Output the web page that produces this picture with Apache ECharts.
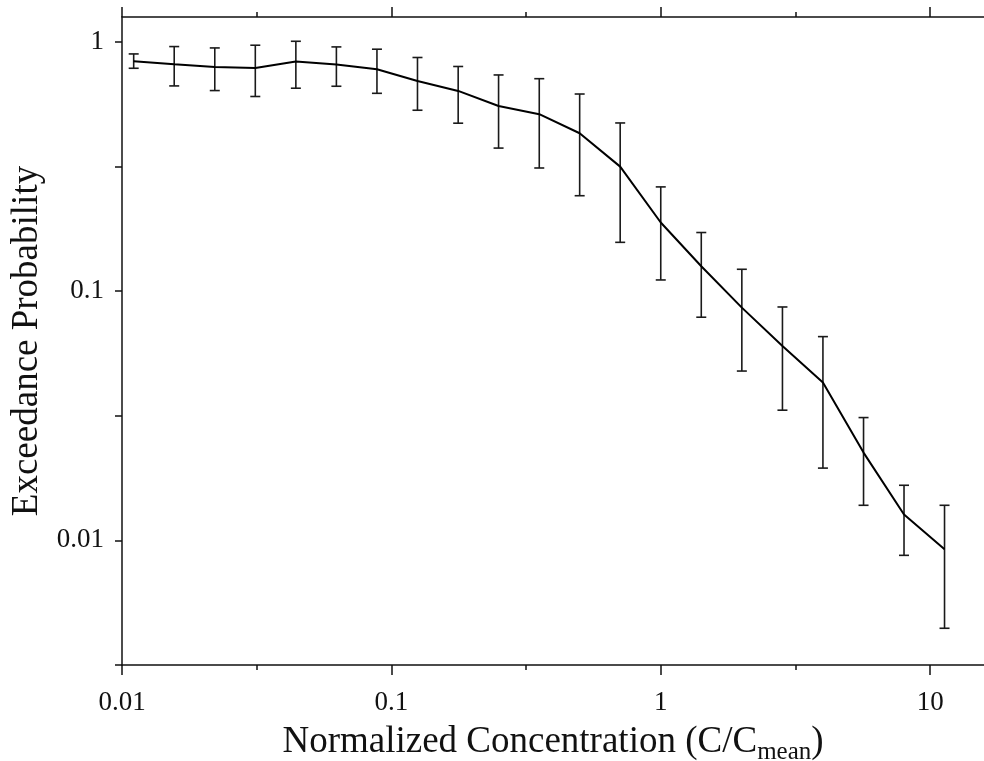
<!DOCTYPE html>
<html>
<head>
<meta charset="utf-8">
<script src="https://cdn.jsdelivr.net/npm/echarts@6/dist/echarts.min.js"></script>
<style>html,body{margin:0;padding:0;background:#fff;}#c{width:984px;height:761px;}</style>
</head>
<body>
<div id="c"></div>
<script>
// Normalized concentration C/Cmean (bin centres)
var concentration = [0.01105, 0.015625, 0.0221, 0.03125, 0.0442, 0.0625, 0.0884, 0.125, 0.177, 0.25, 0.354, 0.5, 0.707, 1.0, 1.414, 2.0, 2.83, 4.0, 5.66, 8.0, 11.31];
// Exceedance probability (line)
var probability = [0.837, 0.814, 0.794, 0.786, 0.834, 0.812, 0.777, 0.697, 0.636, 0.553, 0.513, 0.430, 0.316, 0.1885, 0.1259, 0.0859, 0.0603, 0.0430, 0.0225, 0.0127, 0.00921];
// Error bar upper / lower limits
var upperLimit = [0.895, 0.958, 0.946, 0.970, 1.006, 0.955, 0.935, 0.866, 0.797, 0.737, 0.712, 0.618, 0.473, 0.262, 0.1719, 0.1224, 0.0864, 0.0657, 0.0311, 0.01664, 0.01383];
var lowerLimit = [0.784, 0.666, 0.638, 0.604, 0.652, 0.664, 0.622, 0.532, 0.472, 0.375, 0.312, 0.2415, 0.157, 0.1109, 0.0786, 0.0478, 0.0333, 0.0195, 0.01383, 0.00871, 0.00444];
// Tick labels
var xTickLabels = ['0.01', '0.1', '1', '10'];
var yTickLabels = ['0.01', '0.1', '1'];

var L = Math.log10;
var lineData = concentration.map(function (c, i) { return [L(c), L(probability[i])]; });
var barData = concentration.map(function (c, i) { return [L(c), L(lowerLimit[i]), L(upperLimit[i])]; });

var serif = 'Liberation Serif';
var ink = '#111';

function labelFor(list, start) {
  return function (v) {
    var idx = Math.round(v - start);
    return Math.abs(v - Math.round(v)) < 1e-6 && list[idx] !== undefined ? list[idx] : '';
  };
}

var xBase = { type: 'value', min: -2, max: 1.2, splitLine: { show: false } };
function xAxisDef(pos, major, showLine, extra) {
  var a = Object.assign({}, xBase, {
    position: pos,
    axisLine: { show: showLine, onZero: false, lineStyle: { color: ink, width: 1.5 } },
    axisTick: { show: true, length: major ? 10 : 5, customValues: major ? [-2, -1, 0, 1] : [-1.5, -0.5, 0.5], lineStyle: { color: ink, width: 1.5 } },
    axisLabel: { show: false }
  });
  return Object.assign(a, extra || {});
}

var chart = echarts.init(document.getElementById('c'), null, { renderer: 'canvas' });
chart.setOption({
  animation: false,
  backgroundColor: '#fff',
  grid: { left: 122, right: 0, top: 17, bottom: 96, containLabel: false, outerBoundsMode: 'none' },
  xAxis: [
    xAxisDef('bottom', true, true, {
      axisLabel: { show: true, customValues: [-2, -1, 0, 1], formatter: labelFor(xTickLabels, -2), margin: 24, fontFamily: serif, fontSize: 27, color: ink },
      name: 'Normalized Concentration (C/C{sub|mean})',
      nameLocation: 'middle',
      nameGap: 55,
      nameTextStyle: { fontFamily: serif, fontSize: 37, color: ink, rich: { sub: { fontFamily: serif, fontSize: 25, color: ink, padding: [20, 0, 0, 0] } } }
    }),
    xAxisDef('bottom', false, false),
    xAxisDef('top', true, true),
    xAxisDef('top', false, false)
  ],
  yAxis: [{
    type: 'value', min: -2.5, max: 0.1, position: 'left',
    splitLine: { show: false },
    axisLine: { show: true, onZero: false, lineStyle: { color: ink, width: 1.5 } },
    axisTick: { show: true, length: 7, customValues: [-2.5, -2, -1.5, -1, -0.5, 0], lineStyle: { color: ink, width: 1.5 } },
    axisLabel: { show: true, customValues: [-2, -1, 0], formatter: labelFor(yTickLabels, -2), margin: 18, fontFamily: serif, fontSize: 27, color: ink },
    name: 'Exceedance Probability',
    nameLocation: 'middle',
    nameGap: 72,
    nameTextStyle: { fontFamily: serif, fontSize: 37, color: ink }
  }],
  series: [
    {
      type: 'custom',
      xAxisIndex: 0, yAxisIndex: 0,
      data: barData,
      renderItem: function (params, api) {
        var x = api.value(0);
        var lo = api.coord([x, api.value(1)]);
        var hi = api.coord([x, api.value(2)]);
        var w = 5;
        var st = { stroke: '#1a1a1a', lineWidth: 1.6 };
        return {
          type: 'group',
          children: [
            { type: 'line', shape: { x1: lo[0], y1: lo[1], x2: hi[0], y2: hi[1] }, style: st },
            { type: 'line', shape: { x1: lo[0] - w, y1: lo[1], x2: lo[0] + w, y2: lo[1] }, style: st },
            { type: 'line', shape: { x1: hi[0] - w, y1: hi[1], x2: hi[0] + w, y2: hi[1] }, style: st }
          ]
        };
      },
      z: 3
    },
    {
      type: 'line',
      xAxisIndex: 0, yAxisIndex: 0,
      data: lineData,
      symbol: 'none',
      lineStyle: { color: '#000', width: 2 },
      z: 4
    }
  ]
});
</script>
</body>
</html>
